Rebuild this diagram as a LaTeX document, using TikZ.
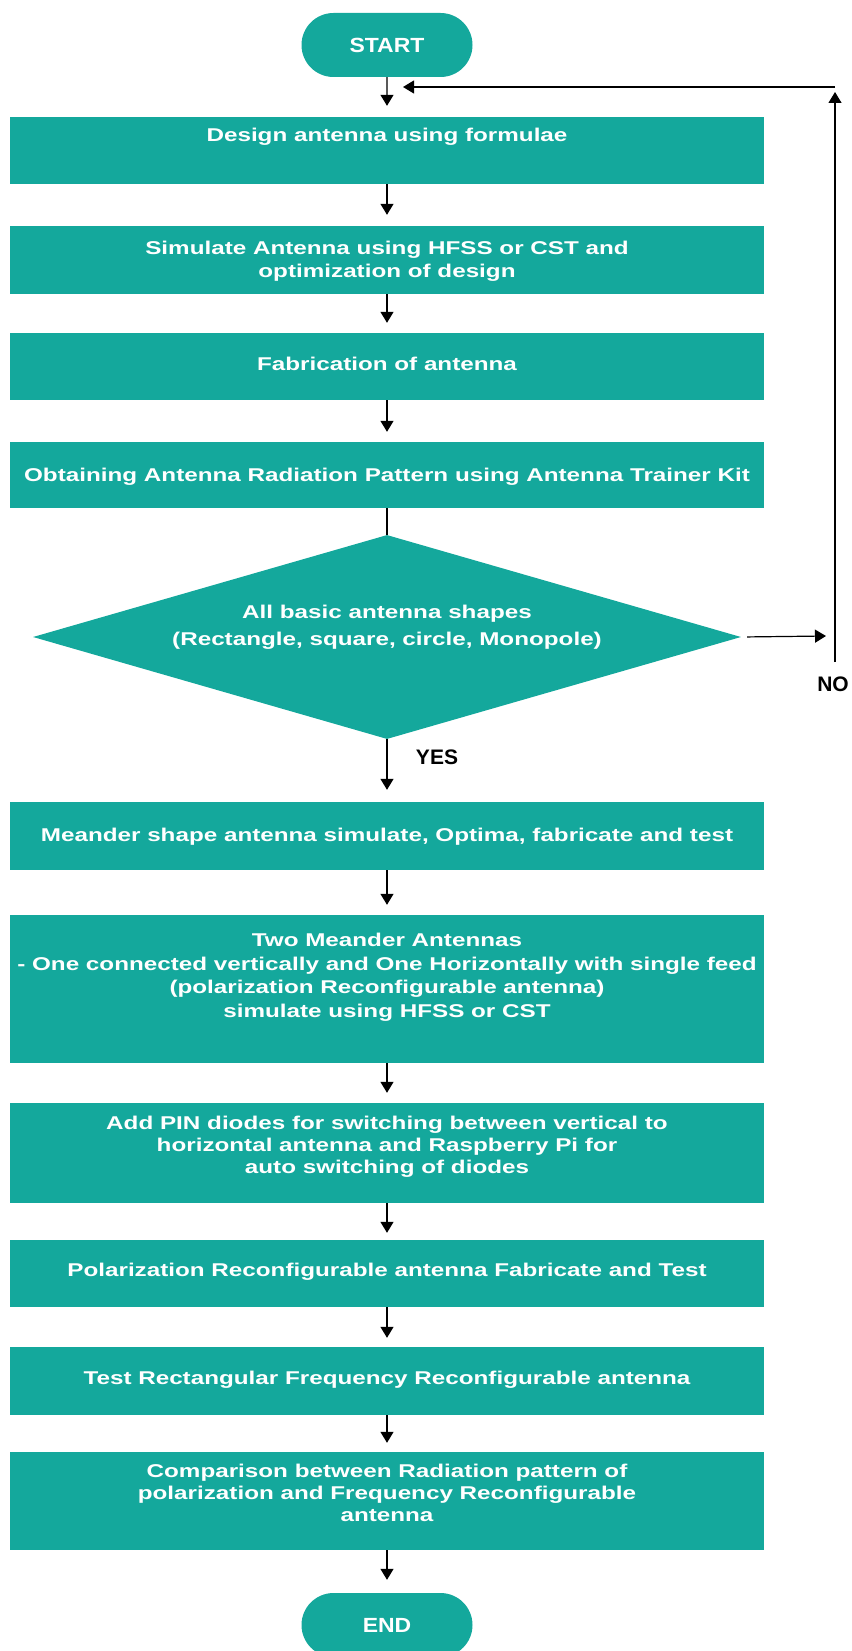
\documentclass[tikz,border=0pt]{standalone}
\usepackage{fontspec}
\usepackage{graphicx}
\setmainfont{Liberation Sans}
\usetikzlibrary{shapes.geometric,shapes.misc,arrows.meta}
\definecolor{flowteal}{RGB}{20,168,156}
% horizontally widened, centred block of lines
\newcommand{\widelines}[2][1.31]{\scalebox{#1}[1]{\begin{tabular}{@{}c@{}}#2\end{tabular}}}
\begin{document}
\begin{tikzpicture}[x=1pt,y=-1pt,
  procbox/.style={fill=flowteal, draw=none, inner sep=0pt, minimum width=754pt},
  terminal/.style={rounded rectangle, fill=flowteal, draw=none, inner sep=0pt,
    minimum width=171pt, minimum height=64pt, text=white,
    font=\bfseries\fontsize{20.5}{24}\selectfont},
  decision/.style={diamond, fill=flowteal, draw=none, inner sep=0pt,
    minimum width=708pt, minimum height=204pt},
  boxtext/.style={text=white, inner sep=0pt,
    font=\bfseries\fontsize{18.5}{23.5}\selectfont},
  flowlabel/.style={text=black, inner sep=0pt,
    font=\bfseries\fontsize{21}{24}\selectfont},
  conn/.style={line width=1.2pt, -{Triangle[length=11pt,width=13pt]}},
  plain/.style={line width=1.2pt}]
\useasboundingbox (0,0) rectangle (851,1651);
\begin{scope}
\clip (0,0) rectangle (851,1651);

% terminals
\node[terminal] (start) at (387,45) {\scalebox{1.12}[1]{START}};
\node[terminal] (stop) at (387,1625) {\scalebox{1.12}[1]{END}};

% process boxes
\node[procbox, minimum height=67pt] (b1) at (387,150.5) {};
\node[procbox, minimum height=68pt] (b2) at (387,260) {};
\node[procbox, minimum height=67pt] (b3) at (387,366.5) {};
\node[procbox, minimum height=66pt] (b4) at (387,475) {};
\node[decision] (dec) at (387,637) {};
\node[procbox, minimum height=68pt] (b5) at (387,836) {};
\node[procbox, minimum height=148pt] (b6) at (387,989) {};
\node[procbox, minimum height=100pt] (b7) at (387,1153) {};
\node[procbox, minimum height=67pt] (b8) at (387,1273.5) {};
\node[procbox, minimum height=68pt] (b9) at (387,1381) {};
\node[procbox, minimum height=98pt] (b10) at (387,1501) {};

% box texts
\node[boxtext] (t1) at (387,137) {\widelines{Design antenna using formulae}};
\node[boxtext] (t2) at (387,261.5) {\widelines{Simulate Antenna using HFSS or CST and\\optimization of design}};
\node[boxtext] (t3) at (387,366) {\widelines{Fabrication of antenna}};
\node[boxtext] (t4) at (387,477) {\widelines{Obtaining Antenna Radiation Pattern using Antenna Trainer Kit}};
\node[boxtext, font=\bfseries\fontsize{18.5}{27}\selectfont] (td) at (387,627) {\widelines{All basic antenna shapes\\(Rectangle, square, circle, Monopole)}};
\node[boxtext] (t5) at (387,837) {\widelines{Meander shape antenna simulate, Optima, fabricate and test}};
\node[boxtext] (t6) at (387,977.5) {\widelines{Two Meander Antennas\\- One connected vertically and One Horizontally with single feed\\(polarization Reconfigurable antenna)\\simulate using HFSS or CST}};
\node[boxtext, font=\bfseries\fontsize{18.5}{22}\selectfont] (t7) at (387,1147) {\widelines{Add PIN diodes for switching between vertical to\\horizontal antenna and Raspberry Pi for\\auto switching of diodes}};
\node[boxtext] (t8) at (387,1272) {\widelines{Polarization Reconfigurable antenna Fabricate and Test}};
\node[boxtext] (t9) at (387,1380) {\widelines{Test Rectangular Frequency Reconfigurable antenna}};
\node[boxtext, font=\bfseries\fontsize{18.5}{22}\selectfont] (t10) at (387,1495) {\widelines{Comparison between Radiation pattern of\\polarization and Frequency Reconfigurable\\antenna}};

% branch labels
\node[flowlabel] (yes) at (437,757) {YES};
\node[flowlabel] (no) at (833,684) {NO};

% main flow connectors
\draw[conn, shorten >=11pt] (start) -- (b1);
\draw[conn, shorten >=11pt] (b1) -- (b2);
\draw[conn, shorten >=10pt] (b2) -- (b3);
\draw[conn, shorten >=10pt] (b3) -- (b4);
\draw[plain] (b4) -- (dec.north);
\draw[conn, shorten >=12pt] (dec.south) -- (b5);
\draw[conn, shorten >=10pt] (b5) -- (b6);
\draw[conn, shorten >=10pt] (b6) -- (b7);
\draw[conn, shorten >=7pt] (b7) -- (b8);
\draw[conn, shorten >=9pt] (b8) -- (b9);
\draw[conn, shorten >=9pt] (b9) -- (b10);
\draw[conn, shorten >=13pt] (b10) -- (stop);

% NO branch: back to the top of the loop
\coordinate (noEnd) at (826,636);
\coordinate (fbLow) at (835,662);
\coordinate (fbHigh) at (835,92);
\coordinate (fbCorner) at (835,87);
\coordinate (fbEnd) at (403,87);
\draw[conn, shorten <=6pt] (dec.east) -- (noEnd);
\draw[conn] (fbLow) -- (fbHigh);
\draw[conn] (fbCorner) -- (fbEnd);
\end{scope}
\end{tikzpicture}
\end{document}
